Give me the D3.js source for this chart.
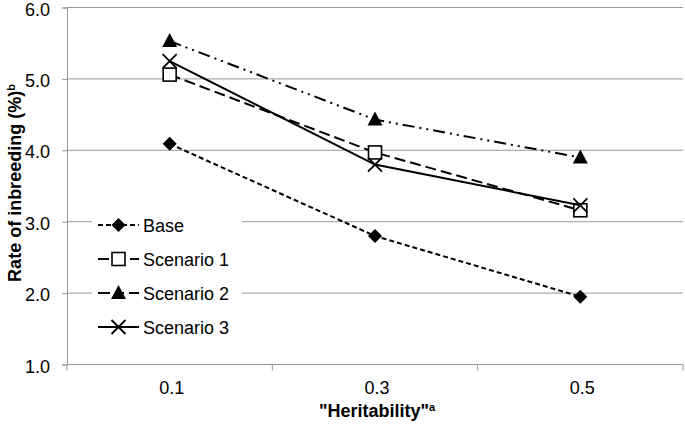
<!DOCTYPE html>
<html><head><meta charset="utf-8">
<script src="https://cdn.jsdelivr.net/npm/d3@7"></script>
<style>body{margin:0;background:#fff}svg{display:block;font-family:"Liberation Sans",Arial,sans-serif}</style>
</head><body><svg id="c" width="685" height="424"></svg>
<script>
const categories = ["0.1","0.3","0.5"];
const baseValues = [4.09, 2.80, 1.95];
const scenario1Values = [5.06, 3.97, 3.16];
const scenario2Values = [5.53, 4.43, 3.90];
const scenario3Values = [5.25, 3.80, 3.23];
const seriesNames = ["Base","Scenario 1","Scenario 2","Scenario 3"];
const yTicks = [1,2,3,4,5,6];

const series = [
  {name: seriesNames[0], values: baseValues, dash: "5,3", marker: "diamond"},
  {name: seriesNames[1], values: scenario1Values, dash: "11,5", marker: "square"},
  {name: seriesNames[2], values: scenario2Values, dash: "12,5,2,5,2,5", marker: "triangle"},
  {name: seriesNames[3], values: scenario3Values, dash: null, marker: "cross"}
];

const svg = d3.select("#c");
const L = 67, R = 683, T = 7.5, B = 364.5;
const x = d3.scaleBand().domain(categories).range([L, R]);
const y = d3.scaleLinear().domain([1, 6]).range([B, T]);
const grid = "#999";

// gridlines
svg.append("g").selectAll("line").data(yTicks.filter(d => d > 1)).join("line")
  .attr("x1", L).attr("x2", R).attr("y1", d => y(d)).attr("y2", d => y(d))
  .attr("stroke", grid).attr("stroke-width", 1);

// y axis
const yAxis = svg.append("g").attr("transform", `translate(${L},0)`)
  .call(d3.axisLeft(y).tickValues(yTicks).tickFormat(d3.format(".1f")).tickSize(5).tickPadding(12));
yAxis.select(".domain").attr("stroke", grid);
yAxis.selectAll(".tick line").attr("stroke", grid);
yAxis.selectAll("text").attr("font-size", 18).attr("fill", "#000").attr("dy", "0.42em")
  .attr("font-family", "Liberation Sans, Arial, sans-serif");

// x axis
const xb = svg.append("g").attr("transform", `translate(0,${B})`);
xb.append("line").attr("x1", L).attr("x2", R).attr("stroke", grid);
const bounds = categories.map(c => x(c)).concat([R]);
xb.selectAll("line.t").data(bounds).join("line").attr("class","t")
  .attr("x1", d => d).attr("x2", d => d).attr("y1", 0).attr("y2", 6).attr("stroke", grid);
xb.selectAll("text").data(categories).join("text")
  .attr("x", d => x(d) + x.bandwidth()/2 + 2).attr("y", 29)
  .attr("text-anchor", "middle").attr("font-size", 18).text(d => d);

// axis titles
const xt = svg.append("text").attr("x", 377).attr("y", 417).attr("text-anchor", "middle")
  .attr("font-size", 18).attr("font-weight", "bold");
xt.append("tspan").text('"Heritability"');
xt.append("tspan").attr("font-size", 11).attr("dy", -6).text("a");

const yt = svg.append("text").attr("transform", "translate(21,183) rotate(-90)")
  .attr("text-anchor", "middle").attr("font-size", 18).attr("font-weight", "bold");
yt.append("tspan").text("Rate of inbreeding (%)");
yt.append("tspan").attr("font-size", 11).attr("dy", -6).text("b");

const line = d3.line().x((d, i) => x(categories[i]) + x.bandwidth()/2).y(d => y(d));

function drawMarker(g, type, cx, cy) {
  if (type === "diamond") {
    g.append("path").attr("d", `M${cx},${cy-7}L${cx+7},${cy}L${cx},${cy+7}L${cx-7},${cy}Z`).attr("fill", "#000");
  } else if (type === "square") {
    g.append("rect").attr("x", cx-6.5).attr("y", cy-6.5).attr("width", 13).attr("height", 13)
      .attr("fill", "#fff").attr("stroke", "#000").attr("stroke-width", 1.6);
  } else if (type === "triangle") {
    g.append("path").attr("d", `M${cx},${cy-8}L${cx+7.5},${cy+6}L${cx-7.5},${cy+6}Z`).attr("fill", "#000");
  } else {
    g.append("path").attr("d", `M${cx-7},${cy-7}L${cx+7},${cy+7}M${cx+7},${cy-7}L${cx-7},${cy+7}`)
      .attr("stroke", "#000").attr("stroke-width", 1.8);
  }
}

series.forEach(s => {
  const g = svg.append("g");
  g.append("path").attr("d", line(s.values)).attr("fill", "none").attr("stroke", "#000")
    .attr("stroke-width", 2).attr("stroke-dasharray", s.dash);
  s.values.forEach((v, i) => drawMarker(g, s.marker, x(categories[i]) + x.bandwidth()/2, y(v)));
});

// legend
const lg = svg.append("g");
series.forEach((s, i) => {
  const ly = 225 + i * 34;
  lg.append("rect").attr("x", 92).attr("y", ly - 14).attr("width", 150).attr("height", 28).attr("fill", "#fff");
  lg.append("line").attr("x1", 98).attr("x2", 139).attr("y1", ly).attr("y2", ly)
    .attr("stroke", "#000").attr("stroke-width", 2).attr("stroke-dasharray", s.dash);
  drawMarker(lg, s.marker, 118.5, ly);
  lg.append("text").attr("x", 143).attr("y", ly + 6.5).attr("font-size", 18).text(s.name);
});
</script></body></html>
